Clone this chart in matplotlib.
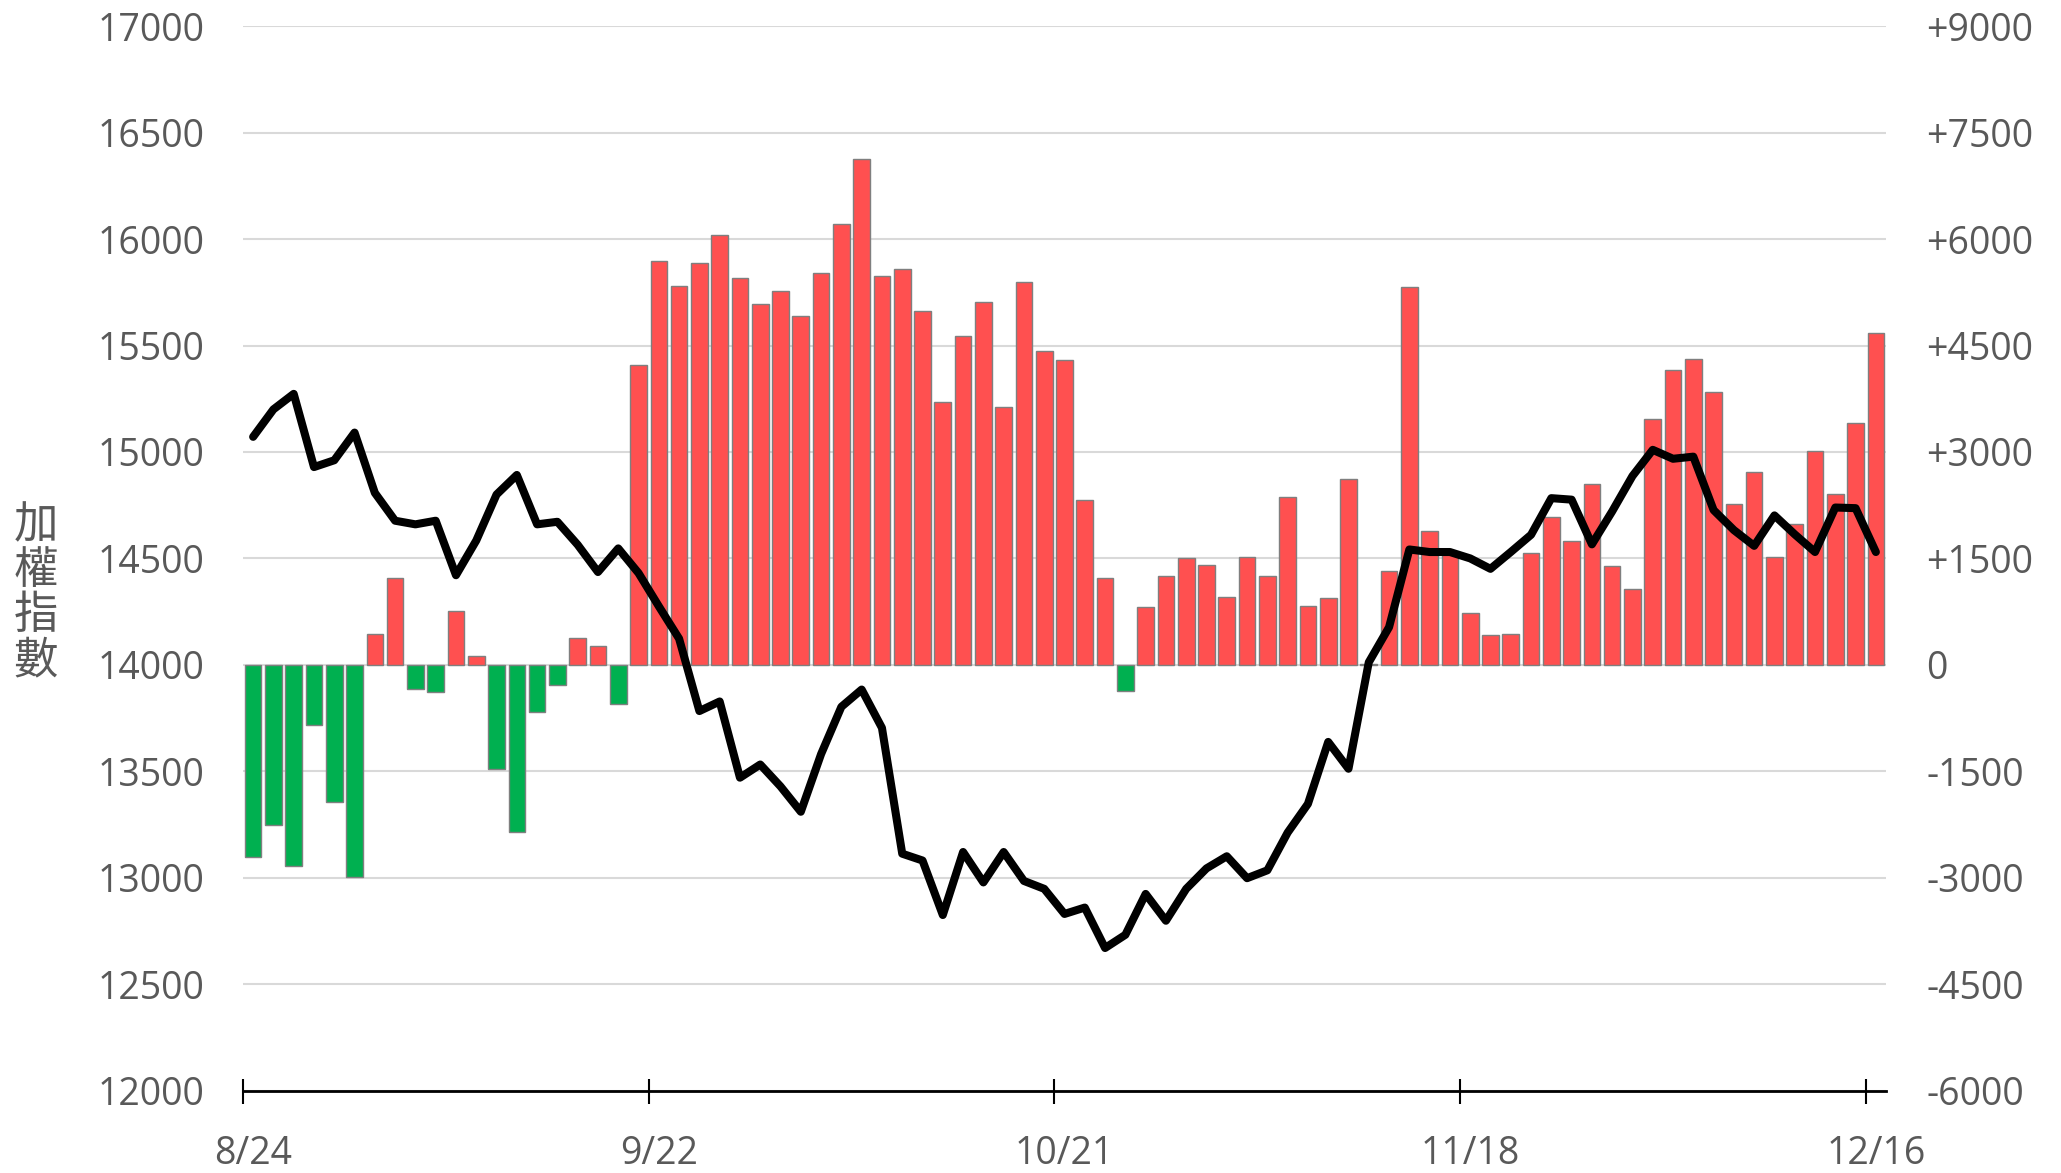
import matplotlib
matplotlib.use("Agg")
import matplotlib.pyplot as plt
import numpy as np

# 外資期貨淨部位 (右軸, 口) 與加權指數 (左軸)
net_oi = [-2712, -2261, -2830, -850, -1936, -2985, 429, 1219, -347, -384,
          754, 126, -1472, -2357, -665, -281, 384, 266, -547, 4226,
          5690, 5342, 5667, 6059, 5453, 5091, 5268, 4921, 5527, 6214,
          7130, 5475, 5579, 4980, 3709, 4640, 5113, 3635, 5394, 4426,
          4300, 2320, 1226, -362, 820, 1249, 1507, 1411, 953, 1515,
          1256, 2372, 828, 946, 2616, 10, 1323, 5320, 1890, 1580,
          733, 424, 430, 1583, 2084, 1751, 2542, 1389, 1064, 3458,
          4160, 4308, 3850, 2261, 2712, 1515, 1980, 3015, 2409, 3406,
          4677]
taiex = [15071, 15200, 15273, 14929, 14961, 15091, 14808, 14677, 14660, 14677,
         14421, 14584, 14800, 14892, 14660, 14672, 14564, 14436, 14547, 14431,
         14275, 14123, 13783, 13828, 13470, 13532, 13429, 13310, 13581, 13803,
         13884, 13704, 13113, 13081, 12825, 13121, 12978, 13121, 12985, 12948,
         12830, 12860, 12670, 12732, 12924, 12798, 12948, 13044, 13101, 12998,
         13035, 13212, 13347, 13638, 13512, 14012, 14177, 14542, 14530, 14530,
         14500, 14451, 14530, 14611, 14783, 14776, 14566, 14721, 14887, 15010,
         14968, 14978, 14727, 14633, 14559, 14702, 14613, 14530, 14739, 14736,
         14530]
date_pos = [0, 20, 40, 60, 80]
date_labels = ["8/24", "9/22", "10/21", "11/18", "12/16"]

left_ticks = list(range(12000, 17001, 500))
right_ticks = list(range(-6000, 9001, 1500))

plt.rcParams["font.family"] = ["Open Sans", "Noto Sans CJK TC", "DejaVu Sans"]
gray = "#595959"

fig = plt.figure(figsize=(20.61, 11.73), dpi=100)
ax1 = fig.add_axes([0.1179, 0.0702, 0.7972, 0.9075])
ax2 = ax1.twinx()
ax1.set_zorder(2)
ax2.set_zorder(1)
ax1.patch.set_visible(False)

x = np.arange(len(net_oi))
colors = ["#FF5050" if v >= 0 else "#00B050" for v in net_oi]
ax2.bar(x, net_oi, width=0.82, color=colors, edgecolor="#7F7F7F", linewidth=1.0, zorder=2)
ax2.set_ylim(-6000, 9000)
ax2.set_yticks(right_ticks)
ax2.set_yticklabels([("+%d" % v if v > 0 else "%d" % v) for v in right_ticks])
ax2.yaxis.grid(True, color="#D9D9D9", linewidth=1.5)
ax2.set_axisbelow(True)
ax2.tick_params(axis="y", length=0, pad=29, labelsize=27, labelcolor=gray)

ax1.plot(x, taiex, color="black", linewidth=5.8, solid_joinstyle="round",
         solid_capstyle="round", zorder=3)
ax1.set_ylim(12000, 17000)
ax1.set_yticks(left_ticks)
ax1.set_xlim(-0.5, len(net_oi) - 0.5)
ax1.tick_params(axis="y", length=0, pad=28, labelsize=27, labelcolor=gray)

# 刻度線在分類邊界, 標籤在中央
ax1.set_xticks([p - 0.5 for p in date_pos])
ax1.set_xticklabels([])
ax1.tick_params(axis="x", which="major", direction="inout", length=18, width=1.5, color="black")
ax1.set_xticks(date_pos, minor=True)
ax1.set_xticklabels(date_labels, minor=True)
ax1.tick_params(axis="x", which="minor", length=0, pad=32, labelsize=27, labelcolor=gray)

for ax in (ax1, ax2):
    for s in ax.spines.values():
        s.set_visible(False)
ax1.spines["bottom"].set_visible(True)
ax1.spines["bottom"].set_color("black")
ax1.spines["bottom"].set_linewidth(2)

fig.text(0.0175, 0.4945, "加\n權\n指\n數", ha="center", va="center", fontsize=32,
         linespacing=0.97, family=["Noto Sans CJK TC", "DejaVu Sans"], color=gray)

fig.savefig("out.png", dpi=100)
